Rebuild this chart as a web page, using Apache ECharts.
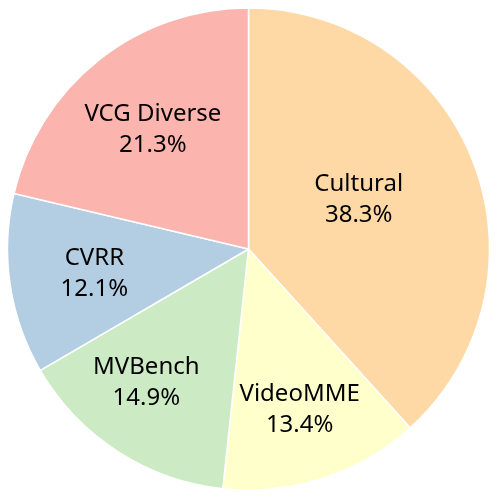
<!DOCTYPE html>
<html>
<head>
<meta charset="utf-8">
<script src="https://cdn.jsdelivr.net/npm/echarts@6/dist/echarts.min.js"></script>
<style>
    html, body { margin: 0; padding: 0; background: #fff; }
    #chart { width: 498px; height: 500px; }
</style>
</head>
<body>
<div id="chart"></div>
<script>
var names = ['Cultural', 'VideoMME', 'MVBench', 'CVRR', 'VCG Diverse'];
var shares = [38.3, 13.4, 14.9, 12.1, 21.3];

var colors = ['#fed9a6', '#ffffcc', '#ccebc5', '#b3cde3', '#fbb4ae'];
// nudge labels off the default inside position
var labelOffsets = [[-5, -5], [13, 43], [-35, 30], [-32, 6], [-19, -22]];

var chart = echarts.init(document.getElementById('chart'));

var items = [];
for (var i = 0; i < names.length; i++) {
    items.push({
        name: names[i],
        value: shares[i],
        itemStyle: { color: colors[i] },
        label: { offset: labelOffsets[i] }
    });
}

var option = {
    animation: false,
    series: [{
        type: 'pie',
        center: [248.5, 249],
        radius: 241,
        startAngle: 90,
        clockwise: true,
        itemStyle: {
            borderColor: '#fff',
            borderWidth: 1.5
        },
        label: {
            show: true,
            position: 'inside',
            color: '#000',
            fontFamily: 'Noto Sans',
            fontSize: 24,
            lineHeight: 31,
            formatter: function (p) {
                return p.name + '\n' + p.value.toFixed(1) + '%';
            }
        },
        labelLine: { show: false },
        emphasis: { disabled: true },
        data: items
    }]
};

chart.setOption(option);
</script>
</body>
</html>
